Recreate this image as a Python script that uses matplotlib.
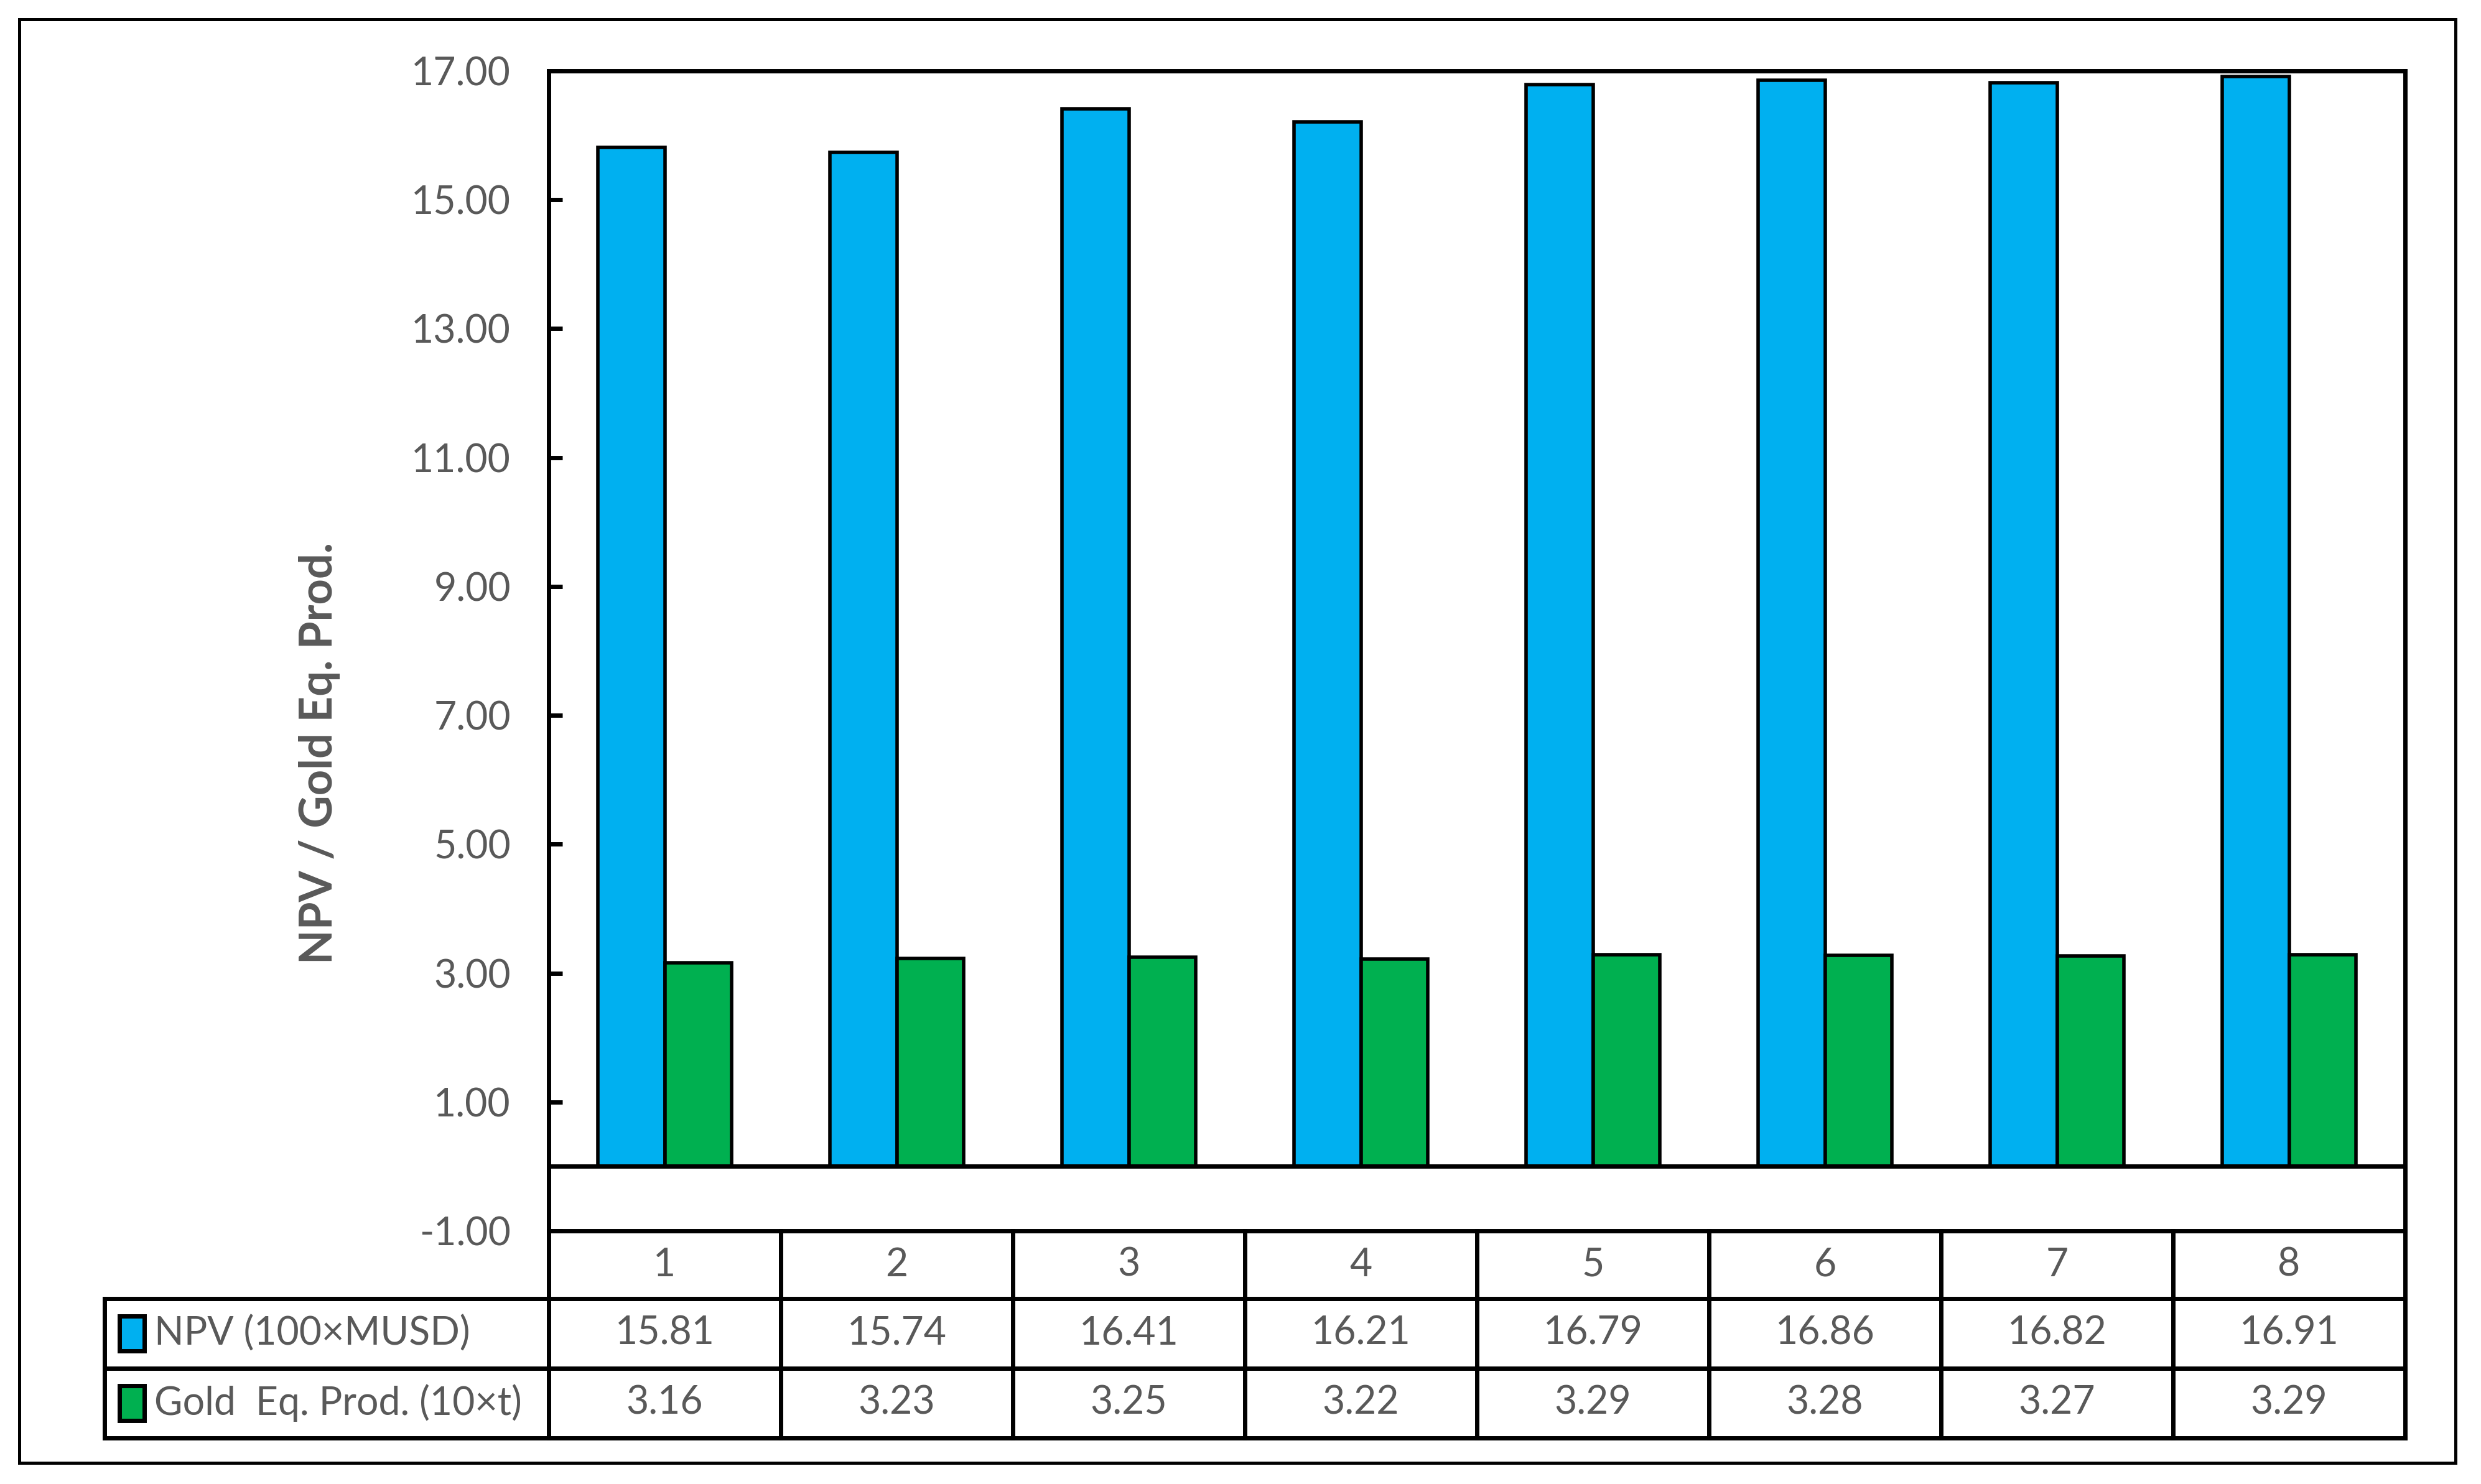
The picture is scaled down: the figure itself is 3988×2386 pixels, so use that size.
import matplotlib

matplotlib.use("Agg")
import matplotlib.pyplot as plt
from matplotlib.patches import Rectangle
import numpy as np

# Données
categories = ["1", "2", "3", "4", "5", "6", "7", "8"]
npv = [15.81, 15.74, 16.41, 16.21, 16.79, 16.86, 16.82, 16.91]
gold = [3.16, 3.23, 3.25, 3.22, 3.29, 3.28, 3.27, 3.29]
series_names = ["NPV (100×MUSD)", "Gold  Eq. Prod. (10×t)"]
series_colors = ["#00B0F0", "#00B050"]
yticks = [-1, 1, 3, 5, 7, 9, 11, 13, 15, 17]

W, H = 3988, 2386
DPI = 200
GREY = "#595959"
FS = 22.5

plt.rcParams["font.family"] = ["Lato", "DejaVu Sans"]

fig = plt.figure(figsize=(W / DPI, H / DPI), dpi=DPI)

# zone de tracé (pixels de la figure d'origine)
px_left, px_right, px_top, px_bottom = 882, 3866, 114, 1979
ax = fig.add_axes([px_left / W, 1 - px_bottom / H,
                   (px_right - px_left) / W, (px_bottom - px_top) / H])

x = np.arange(len(categories))
bw = 0.287
for vals, off, col in [(npv, -bw / 2, series_colors[0]), (gold, bw / 2, series_colors[1])]:
    ax.bar(x + off, vals, bw, color=col, edgecolor="black", linewidth=2.0, zorder=3)

ax.axhline(0, color="black", linewidth=2.5, zorder=4)
ax.set_xlim(-0.5, len(categories) - 0.5)
ax.set_ylim(-1, 17)
ax.set_yticks(yticks, [f"{v:.2f}" for v in yticks])
ax.set_xticks([])
ax.tick_params(axis="y", direction="in", length=8, width=2.5, pad=22,
               labelsize=FS, labelcolor=GREY)
for s in ax.spines.values():
    s.set_linewidth(2.5)
    s.set_color("black")
ax.set_ylabel("NPV / Gold Eq. Prod.", fontsize=26, fontweight="bold",
              color=GREY)
ax.yaxis.set_label_coords((547 - px_left) / (px_right - px_left), 0.412)

# tableau de données sous le graphique
ah = px_bottom - px_top
aw = px_right - px_left
row_lines = [-(2088 - px_bottom) / ah, -(2200 - px_bottom) / ah, -(2312 - px_bottom) / ah]
leg_left = (168 - px_left) / aw
n = len(categories)
kw = dict(transform=ax.transAxes, clip_on=False, color="black", linewidth=2.5,
          solid_capstyle="projecting")
for yl in row_lines:
    ax.plot([leg_left, 1], [yl, yl], **kw)
ax.plot([leg_left, leg_left], [row_lines[0], row_lines[2]], **kw)
for k in range(n + 1):
    ax.plot([k / n, k / n], [0, row_lines[2]], **kw)

row_centers = [row_lines[0] / 2,
               (row_lines[0] + row_lines[1]) / 2,
               (row_lines[1] + row_lines[2]) / 2]
for i, cat in enumerate(categories):
    xc = (i + 0.5) / n
    ax.text(xc, row_centers[0], cat, transform=ax.transAxes, ha="center",
            va="center", fontsize=FS, color=GREY)
    ax.text(xc, row_centers[1], f"{npv[i]:.2f}", transform=ax.transAxes,
            ha="center", va="center", fontsize=FS, color=GREY)
    ax.text(xc, row_centers[2], f"{gold[i]:.2f}", transform=ax.transAxes,
            ha="center", va="center", fontsize=FS, color=GREY)

mk_w, mk_h = 40 / aw, 56 / ah
for name, col, yc in zip(series_names, series_colors, row_centers[1:]):
    ax.add_patch(Rectangle(((192 - px_left) / aw, yc - mk_h / 2), mk_w, mk_h,
                           transform=ax.transAxes, clip_on=False,
                           facecolor=col, edgecolor="black", linewidth=2.5))
    ax.text((248 - px_left) / aw, yc, name, transform=ax.transAxes, ha="left",
            va="center", fontsize=FS, color=GREY)

# cadre extérieur
fig.patches.append(Rectangle((31 / W, 1 - 2352 / H), (3947 - 31) / W, (2352 - 31) / H,
                             transform=fig.transFigure, fill=False,
                             edgecolor="black", linewidth=1.8))

fig.savefig("out.png", dpi=DPI)
